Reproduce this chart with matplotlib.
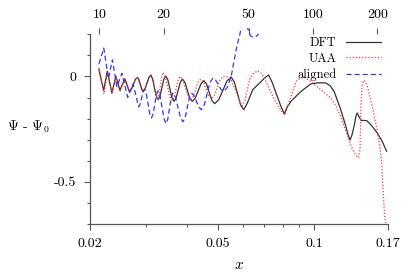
import matplotlib
matplotlib.use("Agg")
import matplotlib.pyplot as plt
from matplotlib.ticker import FixedLocator, FixedFormatter, NullFormatter
import numpy as np

plt.rcParams['mathtext.fontset'] = 'cm'
plt.rcParams['font.family'] = ['cmr10', 'DejaVu Serif']
plt.rcParams['axes.formatter.use_mathtext'] = True

# ---- data ----
dft_x = [0.02133, 0.02206, 0.02264, 0.02341, 0.02409, 0.02479, 0.02569, 0.02653,
         0.02691, 0.02770, 0.02810, 0.02840, 0.02899, 0.02929, 0.02969, 0.03053,
         0.03095, 0.03135, 0.03176, 0.03219, 0.03260, 0.03305, 0.03351, 0.03399,
         0.03445, 0.03497, 0.03549, 0.03601, 0.03656, 0.03711, 0.03768, 0.03825,
         0.03882, 0.03953, 0.04024, 0.04096, 0.04170, 0.04258, 0.04347, 0.04438,
         0.04531, 0.04620, 0.04708, 0.04798, 0.04892, 0.05041, 0.05193, 0.05349,
         0.05513, 0.05638, 0.05767, 0.05898, 0.06033, 0.06195, 0.06434, 0.06833,
         0.07046, 0.07215, 0.07408, 0.07607, 0.07845, 0.08072, 0.08248, 0.08468,
         0.09097, 0.09771, 0.10296, 0.10879, 0.11219, 0.11544, 0.12111, 0.12490,
         0.12762, 0.12944, 0.13133, 0.13321, 0.13514, 0.13640, 0.13807, 0.14004,
         0.14619, 0.15184, 0.15737, 0.16311, 0.16833]
dft_y = [0.032, -0.066, 0.025, -0.077, 0.001, -0.065, -0.011, -0.071,
         -0.062, -0.014, -0.005, -0.014, -0.061, -0.070, -0.059, -0.005,
         0.006, -0.011, -0.052, -0.093, -0.110, -0.094, -0.054, -0.013,
         0.003, -0.015, -0.058, -0.100, -0.118, -0.103, -0.065, -0.028,
         -0.012, -0.028, -0.065, -0.103, -0.118, -0.104, -0.069, -0.035,
         -0.020, -0.036, -0.075, -0.113, -0.129, -0.111, -0.066, -0.021,
         -0.003, -0.026, -0.080, -0.135, -0.158, -0.125, -0.063, -0.024,
         -0.004, 0.007, -0.030, -0.079, -0.134, -0.178, -0.144, -0.118,
         -0.071, -0.035, -0.030, -0.031, -0.044, -0.071, -0.158, -0.224,
         -0.276, -0.302, -0.276, -0.237, -0.186, -0.173, -0.191, -0.208,
         -0.210, -0.237, -0.268, -0.308, -0.355]

uaa_x = [0.02133, 0.02211, 0.02267, 0.02341, 0.02409, 0.02479, 0.02569, 0.02653,
         0.02810, 0.02929, 0.03095, 0.03134, 0.03173, 0.03213, 0.03253, 0.03284,
         0.03316, 0.03348, 0.03379, 0.03435, 0.03492, 0.03550, 0.03609, 0.03661,
         0.03714, 0.03768, 0.03822, 0.03893, 0.03968, 0.04044, 0.04120, 0.04194,
         0.04270, 0.04347, 0.04426, 0.04513, 0.04603, 0.04695, 0.04788, 0.04883,
         0.04980, 0.05079, 0.05180, 0.05330, 0.05485, 0.05713, 0.05850, 0.05964,
         0.06085, 0.06284, 0.06466, 0.06678, 0.06872, 0.07081, 0.07515, 0.07975,
         0.08113, 0.08248, 0.08468, 0.08777, 0.09019, 0.09314, 0.09771, 0.10496,
         0.11275, 0.11685, 0.12111, 0.12552, 0.13009, 0.13321, 0.13640, 0.13756,
         0.13905, 0.14004, 0.14105, 0.14237, 0.14411, 0.14650, 0.15184, 0.15669,
         0.16009, 0.16241, 0.16392, 0.16592, 0.16712]
uaa_y = [0.041, -0.082, 0.020, -0.080, -0.001, -0.073, -0.013, -0.073,
         -0.001, -0.073, 0.008, -0.009, -0.049, -0.089, -0.106, -0.088,
         -0.043, 0.001, 0.019, 0.000, -0.048, -0.096, -0.115, -0.098,
         -0.057, -0.016, 0.001, -0.015, -0.055, -0.094, -0.110, -0.096,
         -0.062, -0.027, -0.013, -0.027, -0.059, -0.092, -0.106, -0.091,
         -0.054, -0.017, -0.001, 0.001, -0.011, -0.073, -0.115, -0.141,
         -0.115, -0.016, 0.015, 0.027, 0.013, -0.025, -0.110, -0.173,
         -0.182, -0.148, -0.095, -0.024, -0.009, -0.004, -0.024, -0.063,
         -0.102, -0.139, -0.190, -0.257, -0.324, -0.362, -0.381, -0.385,
         -0.347, -0.134, -0.049, -0.020, -0.023, -0.044, -0.142, -0.243,
         -0.324, -0.404, -0.521, -0.664, -0.695]

aligned_x = [0.02133, 0.02208, 0.02283, 0.02349, 0.02426, 0.02515, 0.02621, 0.02726,
             0.02836, 0.02866, 0.02897, 0.02929, 0.02960, 0.02996, 0.03034, 0.03072,
             0.03110, 0.03147, 0.03184, 0.03222, 0.03260, 0.03307, 0.03355, 0.03403,
             0.03452, 0.03496, 0.03540, 0.03585, 0.03630, 0.03695, 0.03762, 0.03830,
             0.03899, 0.03961, 0.04023, 0.04085, 0.04150, 0.04222, 0.04296, 0.04372,
             0.04448, 0.04541, 0.04636, 0.04733, 0.04833, 0.04929, 0.05027, 0.05126,
             0.05229, 0.05349, 0.05513, 0.05604, 0.05713, 0.05800, 0.05879, 0.05977,
             0.06085, 0.06208, 0.06261, 0.06329, 0.06434, 0.06560, 0.06654, 0.06716]
aligned_y = [0.060, 0.135, -0.011, 0.079, -0.049, 0.015, -0.099, -0.035,
             -0.144, -0.131, -0.102, -0.073, -0.061, -0.081, -0.129, -0.177,
             -0.197, -0.178, -0.132, -0.087, -0.068, -0.091, -0.146, -0.201,
             -0.224, -0.203, -0.151, -0.100, -0.079, -0.099, -0.147, -0.195,
             -0.215, -0.195, -0.147, -0.100, -0.080, -0.091, -0.119, -0.146,
             -0.158, -0.136, -0.083, -0.029, -0.008, -0.017, -0.039, -0.062,
             -0.071, -0.054, 0.000, 0.060, 0.127, 0.169, 0.206, 0.259,
             0.292, 0.229, 0.209, 0.194, 0.187, 0.188, 0.195, 0.202]

bottom_ticks = [0.02, 0.05, 0.1, 0.17]
bottom_labels = ['0.02', '0.05', '0.1', '0.17']
bottom_minor = [0.03, 0.04, 0.06, 0.07, 0.08, 0.09]
top_ticks = [10, 20, 50, 100, 200]
left_ticks = [-0.5, 0.0]
left_labels = ['-0.5', '0']
left_minor = [-0.7, -0.6, -0.4, -0.3, -0.2, -0.1, 0.1, 0.2]

# ---- figure ----
fig = plt.figure(figsize=(4.15, 2.77), dpi=100)
ax = fig.add_axes([90/415, 1-224/277, 298/415, 196/277])

ax.plot(dft_x, dft_y, color='#333333', lw=0.9, label='DFT')
ax.plot(uaa_x, uaa_y, color='#ff3333', lw=0.9, ls=(0, (1, 1.5)), label='UAA')
ax.plot(aligned_x, aligned_y, color='#3333ff', lw=0.9, ls=(0, (4, 2.5)), label='aligned')

ax.set_xscale('log')
ax.set_xlim(0.02, 0.17)
ax.set_ylim(-0.7, 0.23)

for s in ['top', 'right']:
    ax.spines[s].set_visible(False)
for s in ['left', 'bottom']:
    ax.spines[s].set_color('#555555')
    ax.spines[s].set_linewidth(0.9)
ax.spines['left'].set_bounds(-0.7, 0.2)
ax.spines['bottom'].set_bounds(0.02, 0.17)

ax.xaxis.set_major_locator(FixedLocator(bottom_ticks))
ax.xaxis.set_major_formatter(FixedFormatter(bottom_labels))
ax.xaxis.set_minor_locator(FixedLocator(bottom_minor))
ax.xaxis.set_minor_formatter(NullFormatter())
ax.yaxis.set_major_locator(FixedLocator(left_ticks))
ax.yaxis.set_major_formatter(FixedFormatter(left_labels))
ax.yaxis.set_minor_locator(FixedLocator(left_minor))

ax.tick_params(which='major', length=4, width=0.8, color='#555555', labelsize=10, pad=6)
ax.tick_params(which='minor', length=2.5, width=0.8, color='#555555')

# top axis: N ~ x^1.5
C = 3200.0
sec = ax.secondary_xaxis('top', functions=(lambda x: C * np.power(np.abs(x), 1.5),
                                           lambda n: np.power(np.abs(n) / C, 2.0/3.0)))
sec.set_xscale('log')
sec.xaxis.set_major_locator(FixedLocator(top_ticks))
sec.xaxis.set_major_formatter(FixedFormatter([str(t) for t in top_ticks]))
sec.xaxis.set_minor_locator(FixedLocator([]))
sec.spines['top'].set_visible(False)
sec.tick_params(direction='in', length=4.5, width=0.8, color='#555555', labelsize=10, pad=5)

ax.set_xlabel(r'$x$', fontsize=11, labelpad=6)
fig.text(7/415, 1-127/277, r'$\Psi$ - $\Psi_0$', fontsize=10, va='center', ha='left')

leg = ax.legend(loc='upper right', bbox_to_anchor=(0.975, 0.955), frameon=False,
                markerfirst=False, fontsize=9, handlelength=2.8, handletextpad=0.75,
                labelspacing=0.3, borderpad=0, borderaxespad=0)

fig.savefig('out.png', dpi=100)
